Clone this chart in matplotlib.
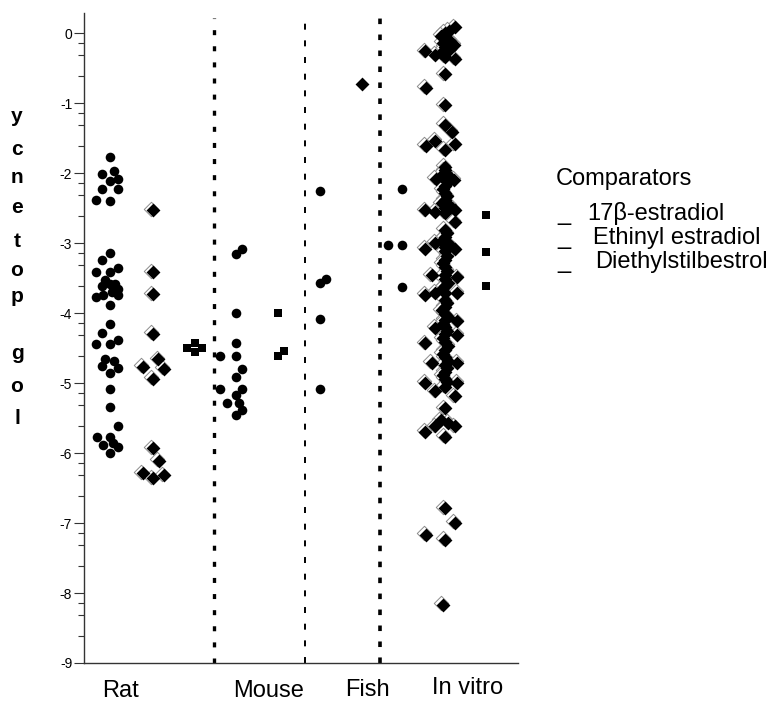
#!/usr/bin/env python3
"""Log potency of estrogen comparators by test system (rat, mouse, fish, in vitro)."""

import matplotlib
matplotlib.use("Agg")
import matplotlib.pyplot as plt
from matplotlib.transforms import offset_copy, blended_transform_factory

plt.rcParams["font.family"] = ["Liberation Sans", "DejaVu Sans"]
plt.rcParams["lines.scale_dashes"] = False
plt.rcParams["axes.unicode_minus"] = False

# (log potency, horizontal jitter)
rat_e2 = [
    (-1.77, 0), (-2.02, -0.18), (-1.97, 0.09), (-2.11, 0), (-2.08, 0.18),
    (-2.23, -0.18), (-2.23, 0.18), (-2.38, -0.32), (-2.40, 0),
    (-3.14, 0), (-3.24, -0.18), (-3.42, -0.32), (-3.42, 0), (-3.36, 0.18),
    (-3.53, -0.12), (-3.61, -0.18), (-3.59, 0), (-3.59, 0.12), (-3.65, 0.18),
    (-3.70, 0.05), (-3.77, -0.32), (-3.74, -0.16), (-3.74, 0.18), (-3.89, 0),
    (-4.16, 0), (-4.28, -0.18), (-4.38, 0.18), (-4.44, -0.32), (-4.44, 0),
    (-4.65, -0.12), (-4.68, 0.09), (-4.75, -0.18), (-4.79, 0.18), (-4.86, 0),
    (-5.08, 0), (-5.34, 0),
    (-5.62, 0.18), (-5.77, -0.30), (-5.77, 0), (-5.89, -0.16), (-5.86, 0.07),
    (-5.91, 0.18), (-6.00, 0),
]
rat_ee = [
    (-2.53, 0), (-3.42, 0), (-3.73, 0), (-4.30, 0), (-4.66, 0.12),
    (-4.77, -0.23), (-4.80, 0.25), (-4.94, 0), (-5.93, 0), (-6.11, 0.14),
    (-6.29, -0.23), (-6.36, 0), (-6.32, 0.25),
]
rat_des = [(-4.50, -0.18), (-4.43, 0), (-4.56, 0), (-4.50, 0.16)]

mouse_e2 = [
    (-3.15, 0), (-3.09, 0.14), (-4.00, 0), (-4.43, 0), (-4.62, -0.37),
    (-4.62, 0), (-4.80, 0.14), (-4.92, 0), (-5.09, -0.37), (-5.09, 0.14),
    (-5.17, 0), (-5.28, -0.21), (-5.28, 0.07), (-5.38, 0.14), (-5.46, 0),
]
mouse_des = [(-4.00, 0), (-4.62, 0), (-4.54, 0.14)]

fish_e2 = [(-2.26, 0), (-3.57, 0), (-3.52, 0.14), (-4.09, 0), (-5.09, 0)]
fish_ee = [(-0.73, 0)]

invitro_e2 = [(-2.23, 0), (-3.03, -0.32), (-3.03, 0), (-3.63, 0)]
invitro_des = [(-2.60, 0), (-3.13, 0), (-3.62, 0)]
invitro_ee = [
    (0.08, 0.23), (0.03, 0.09), (0.00, 0), (-0.04, -0.09), (-0.08, 0),
    (-0.11, 0.12), (-0.14, -0.05), (-0.17, 0.21), (-0.20, 0), (-0.23, 0.12),
    (-0.26, -0.46), (-0.28, -0.10), (-0.31, -0.23), (-0.34, 0), (-0.37, 0.23),
    (-0.59, 0), (-0.78, -0.44), (-1.03, 0), (-1.31, 0), (-1.41, 0.16),
    (-1.54, -0.23), (-1.61, -0.44), (-1.59, 0.23), (-1.67, 0),
    (-1.91, 0), (-1.96, 0), (-2.01, 0.05), (-2.04, -0.10), (-2.07, 0),
    (-2.08, -0.21), (-2.10, 0.21), (-2.13, 0.07), (-2.18, 0), (-2.23, -0.05),
    (-2.28, 0), (-2.33, 0.05), (-2.38, 0), (-2.43, -0.07), (-2.47, 0.12),
    (-2.50, 0), (-2.53, -0.46), (-2.55, -0.23), (-2.53, 0.23), (-2.57, 0),
    (-2.70, 0.23),
    (-2.81, 0), (-2.86, 0.05), (-2.92, 0), (-2.97, -0.07), (-3.00, -0.23),
    (-3.02, 0.10), (-3.06, 0), (-3.08, -0.46), (-3.09, 0.23), (-3.12, 0),
    (-3.18, 0.05), (-3.24, 0), (-3.29, -0.05), (-3.34, 0), (-3.40, 0.05),
    (-3.46, -0.30), (-3.45, 0), (-3.49, 0.28), (-3.52, 0), (-3.57, 0.07),
    (-3.62, 0), (-3.66, -0.07), (-3.71, -0.23), (-3.71, 0.28), (-3.74, -0.46),
    (-3.72, 0),
    (-3.81, 0), (-3.86, 0.05), (-3.91, 0), (-3.96, -0.07), (-4.01, 0),
    (-4.06, 0.07), (-4.10, 0), (-4.12, 0.28), (-4.15, -0.05), (-4.21, -0.23),
    (-4.20, 0), (-4.26, 0.05), (-4.31, 0.28), (-4.30, 0), (-4.36, -0.05),
    (-4.43, -0.46), (-4.41, 0), (-4.47, 0.07), (-4.53, 0), (-4.58, -0.05),
    (-4.63, 0), (-4.68, 0.07), (-4.71, -0.30), (-4.71, 0.28), (-4.74, 0),
    (-4.79, 0.05), (-4.84, 0), (-4.89, -0.05), (-4.94, 0), (-5.00, -0.46),
    (-5.00, 0.28), (-4.99, 0.05), (-5.05, 0), (-5.12, -0.23), (-5.19, 0.23),
    (-5.36, 0), (-5.53, -0.10), (-5.57, 0.07), (-5.62, -0.23), (-5.62, 0.23),
    (-5.70, -0.46), (-5.77, 0),
    (-6.79, 0), (-7.00, 0.23), (-7.17, -0.44), (-7.24, 0), (-8.17, -0.05),
]

categories = ["Rat", "Mouse", "Fish", "In vitro"]
category_x = [0.85, 4.26, 6.54, 8.84]
category_baseline = [697, 697, 696, 694]
dividers = [3.0, 5.09, 6.82]

legend_title = "Comparators"
legend_labels = ["17\u03b2-estradiol", "Ethinyl estradiol", "Diethylstilbestrol"]
ylabel_chars = ["y", "c", "n", "e", "t", "o", "p", "g", "o", "l"]
ylabel_baseline = [122, 155, 183, 213, 247, 276, 302, 359, 392, 424]

W, H = 772, 704
fig = plt.figure(figsize=(W / 100, H / 100), dpi=100)
ax = fig.add_axes([84 / W, 1 - 663 / H, 434 / W, 650 / H])
ax.set_xlim(0, 10)
ax.set_ylim(-9, 0.286)


def circles(x0, pts):
    ax.scatter([x0 + d for _, d in pts], [v for v, _ in pts], marker="o", s=48,
               c="black", linewidths=0, zorder=3)


def squares(x0, pts):
    ax.scatter([x0 + d for _, d in pts], [v for v, _ in pts], marker="s", s=32,
               c="black", linewidths=0, zorder=3)


def diamonds(x0, pts, shadow=True):
    xs = [x0 + d for _, d in pts]
    ys = [v for v, _ in pts]
    if shadow:
        shift = offset_copy(ax.transData, fig=fig, x=-1.6, y=1.6, units="dots")
        ax.scatter(xs, ys, marker="D", s=54, facecolor="white", edgecolor="#8c8c8c",
                   linewidths=0.7, transform=shift, zorder=3)
    ax.scatter(xs, ys, marker="D", s=50, c="black", linewidths=0, zorder=3.5)


circles(0.60, rat_e2)
diamonds(1.59, rat_ee)
squares(2.56, rat_des)
circles(3.50, mouse_e2)
squares(4.47, mouse_des)
circles(5.44, fish_e2)
diamonds(6.41, fish_ee, shadow=False)
circles(7.33, invitro_e2)
diamonds(8.32, invitro_ee)
squares(9.26, invitro_des)

# dotted separators between test systems
styles = [(2.4, (3.6, 8.0)), (1.4, (4.3, 7.7)), (2.6, (4.0, 7.5))]
for xd, (lw, dash) in zip(dividers, styles):
    ax.plot([xd, xd], [-9, 0.22], color="black", lw=lw, dashes=dash,
            dash_capstyle="butt", zorder=2)

for side in ("top", "right"):
    ax.spines[side].set_visible(False)
for side in ("left", "bottom"):
    ax.spines[side].set_color("#333333")
    ax.spines[side].set_linewidth(1.0)

ax.set_xticks([])
ax.set_yticks(range(0, -10, -1))
ax.set_yticklabels([str(v) for v in range(0, -10, -1)])
ax.set_yticks([k - off for k in range(0, -9, -1) for off in (0.14, 0.31, 0.62)], minor=True)
ax.tick_params(axis="y", which="major", length=7, width=0.8, color="#333333",
               labelsize=10, pad=1.5)
ax.tick_params(axis="y", which="minor", length=4, width=0.8, color="#333333")

cat_tr = blended_transform_factory(ax.transData, fig.transFigure)
for name, xc, yb in zip(categories, category_x, category_baseline):
    ax.text(xc, 1 - yb / H, name, transform=cat_tr, ha="center", va="baseline",
            fontsize=17, clip_on=False)

for ch, yb in zip(ylabel_chars, ylabel_baseline):
    fig.text(17 / W, 1 - yb / H, ch, ha="center", va="baseline", fontsize=15,
             fontweight="bold")

fig.text(556 / W, 1 - 185 / H, legend_title, ha="left", va="baseline", fontsize=17)
for label, yb, xl in zip(legend_labels, [220, 244, 268], [587, 593, 595]):
    fig.text(557 / W, 1 - yb / H, "_", ha="left", va="baseline", fontsize=17)
    fig.text(xl / W, 1 - yb / H, label, ha="left", va="baseline", fontsize=17)

fig.savefig("out.png", dpi=100)
